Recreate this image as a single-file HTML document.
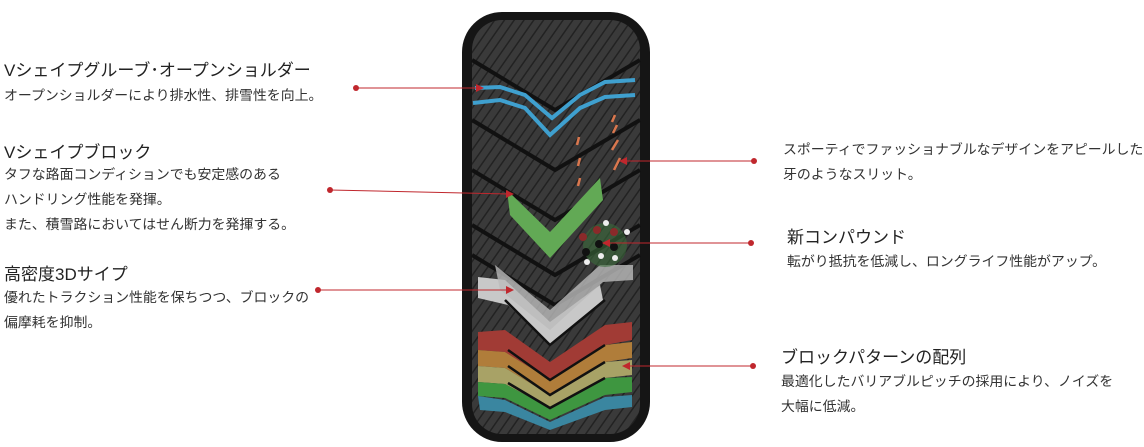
<!DOCTYPE html>
<html><head><meta charset="utf-8"><style>
body{margin:0;background:#fff;width:1144px;height:447px;overflow:hidden;position:relative;font-family:"Liberation Sans","Noto Sans CJK JP",sans-serif;color:#333}
.t{position:absolute;font-size:17px;color:#222;white-space:nowrap}
.b{position:absolute;font-size:13.9px;line-height:25px;color:#333;white-space:nowrap}
svg{position:absolute;left:0;top:0}
</style></head><body>
<svg width="1144" height="447">
<defs><pattern id="tr" width="8" height="8" patternUnits="userSpaceOnUse" patternTransform="rotate(35)"><rect width="8" height="8" fill="#3a3a3a"/><line x1="0" y1="0" x2="0" y2="8" stroke="#222" stroke-width="3"/></pattern></defs>
<rect x="462" y="12" width="188" height="430" rx="40" fill="#151515"/>
<rect x="472" y="20" width="168" height="414" rx="30" fill="url(#tr)"/>
<g fill="none" stroke="#111" stroke-width="4">
<polyline points="472,60 555,110 640,60"/><polyline points="472,120 555,170 640,120"/><polyline points="472,170 555,220 640,170"/><polyline points="472,225 555,275 640,225"/><polyline points="472,255 555,305 640,255"/>
</g>
<g fill="none" stroke-width="4" stroke="#3fa0cf">
<polyline points="475,88 500,87 525,95 552,118 580,95 605,82 635,80"/>
<polyline points="473,103 500,100 525,108 550,135 580,108 605,97 635,95"/>
</g>
<polygon points="507,190 550,232 600,178 603,200 550,258 510,215" fill="#62a955"/>
<polygon points="478,277 505,280 550,322 600,285 603,300 550,345 508,305 478,298" fill="#c8c8c8"/>
<polygon points="495,265 550,310 600,265 633,265 633,280 603,282 550,330 500,290" fill="#bbbbbb" opacity=".8"/>
<polygon points="478,332 505,330 550,362 605,325 632,322 632,340 605,345 550,380 505,352 478,350" fill="#a13b35"/>
<polygon points="478,350 505,352 550,380 605,345 632,342 632,358 605,362 550,395 505,368 478,366" fill="#b07d3a"/>
<polygon points="478,366 505,368 550,395 605,362 632,360 632,375 605,378 550,408 505,384 478,382" fill="#a8a266"/>
<polygon points="478,382 505,384 550,408 605,378 632,377 632,392 605,395 550,420 505,398 478,396" fill="#3e9640"/>
<polygon points="478,396 505,400 550,422 605,397 632,395 632,407 605,410 550,430 505,412 480,410" fill="#3a86a0"/>
<g fill="none" stroke="#111" stroke-width="2.5"><polyline points="505,300 550,345 605,300"/><polyline points="508,350 550,380 605,345"/><polyline points="508,366 550,395 605,362"/><polyline points="508,383 550,408 605,378"/></g>
<g stroke="#d9774e" stroke-width="2.5"><line x1="615" y1="115" x2="612" y2="122"/><line x1="617" y1="125" x2="613" y2="133"/><line x1="618" y1="140" x2="612" y2="150"/><line x1="620" y1="158" x2="614" y2="170"/><line x1="579" y1="137" x2="577" y2="145"/><line x1="580" y1="158" x2="578" y2="166"/><line x1="580" y1="178" x2="578" y2="186"/></g>
<circle cx="605" cy="245" r="22" fill="#3a6a3a" opacity=".6"/>
<g><circle cx="583" cy="237" r="4" fill="#8a2a2a"/><circle cx="597" cy="230" r="4" fill="#8a2a2a"/><circle cx="614" cy="232" r="4" fill="#8a2a2a"/><circle cx="599" cy="244" r="4" fill="#111"/><circle cx="614" cy="247" r="4" fill="#111"/><circle cx="586" cy="252" r="4" fill="#111"/><circle cx="606" cy="223" r="3" fill="#eee"/><circle cx="627" cy="232" r="3" fill="#eee"/><circle cx="587" cy="262" r="3" fill="#eee"/><circle cx="601" cy="256" r="3" fill="#eee"/><circle cx="615" cy="258" r="3" fill="#eee"/></g>
<g stroke="#c0272d" stroke-width="1"><line x1="356" y1="88" x2="478" y2="88"/><line x1="330" y1="190" x2="508" y2="194"/><line x1="318" y1="290" x2="508" y2="290"/><line x1="754" y1="161" x2="622" y2="161"/><line x1="751" y1="243" x2="605" y2="243"/><line x1="753" y1="366" x2="625" y2="366"/></g>
<g fill="#c0272d"><circle cx="356" cy="88" r="3"/><circle cx="330" cy="190" r="3"/><circle cx="318" cy="290" r="3"/><circle cx="754" cy="161" r="3"/><circle cx="751" cy="243" r="3"/><circle cx="753" cy="366" r="3"/>
<polygon points="484,88 476,84 476,92"/><polygon points="514,194 506,190 506,198"/><polygon points="514,290 506,286 506,294"/><polygon points="619,161 627,157 627,165"/><polygon points="602,243 610,239 610,247"/><polygon points="622,366 630,362 630,370"/></g>
</svg>
<div class="t" style="left:4px;top:56px">Vシェイプグルーブ･オープンショルダー</div>
<div class="b" style="left:4px;top:83px">オープンショルダーにより排水性、排雪性を向上。</div>
<div class="t" style="left:4px;top:138px">Vシェイプブロック</div>
<div class="b" style="left:4px;top:162px">タフな路面コンディションでも安定感のある<br>ハンドリング性能を発揮。<br>また、積雪路においてはせん断力を発揮する。</div>
<div class="t" style="left:4px;top:260px">高密度3Dサイプ</div>
<div class="b" style="left:4px;top:285px">優れたトラクション性能を保ちつつ、ブロックの<br>偏摩耗を抑制。</div>
<div class="b" style="left:783px;top:137px">スポーティでファッショナブルなデザインをアピールした<br>牙のようなスリット。</div>
<div class="t" style="left:787px;top:223px">新コンパウンド</div>
<div class="b" style="left:787px;top:249px">転がり抵抗を低減し、ロングライフ性能がアップ。</div>
<div class="t" style="left:781px;top:343px">ブロックパターンの配列</div>
<div class="b" style="left:781px;top:369px">最適化したバリアブルピッチの採用により、ノイズを<br>大幅に低減。</div>
</body></html>
